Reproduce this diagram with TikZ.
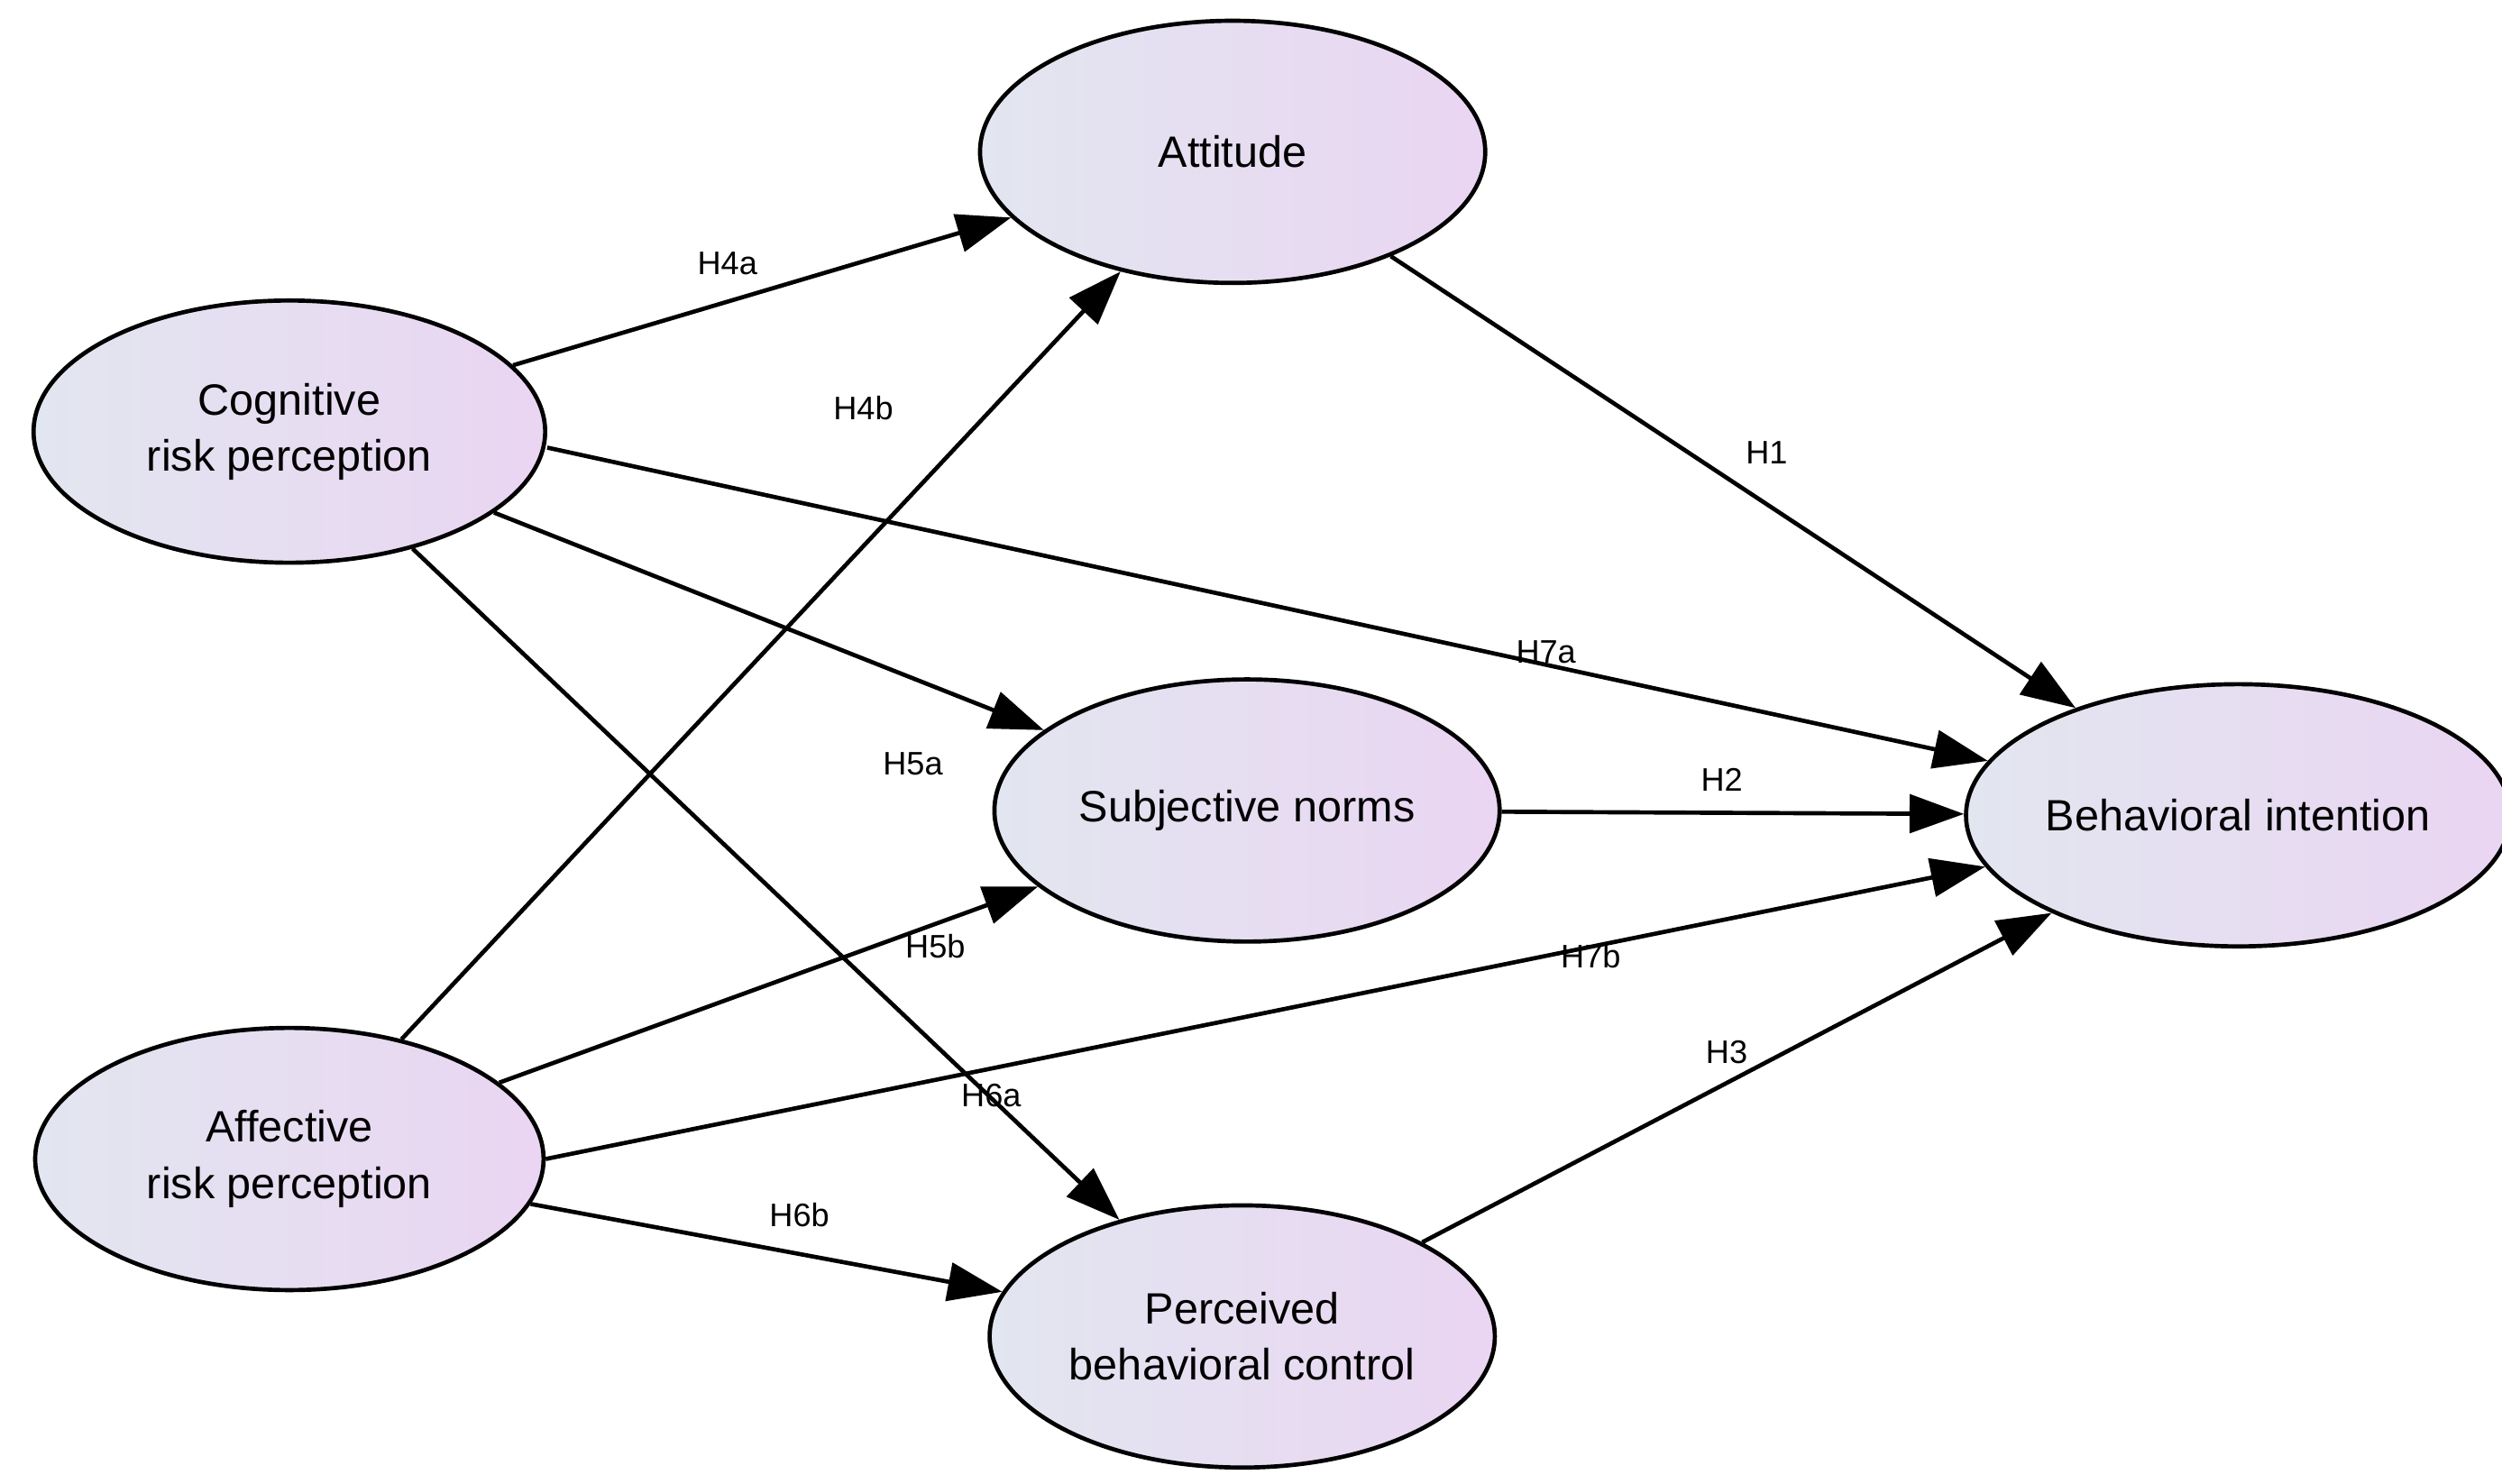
\documentclass[tikz,border=0pt]{standalone}
\usepackage{fontspec}
\setmainfont{Liberation Sans}
\usetikzlibrary{shapes.geometric,arrows.meta}
\definecolor{lcol}{HTML}{E2E6F0}
\definecolor{rcol}{HTML}{EAD5F2}
\tikzset{
  construct/.style={ellipse, draw, line width=0.75pt, minimum width=3.16cm, minimum height=1.64cm,
    left color=lcol, right color=rcol, align=center, font=\fontsize{7.8}{10}\selectfont, inner sep=0pt},
  path/.style={line width=0.75pt, -{Triangle[length=0.34cm,width=0.24cm]}},
  hyp/.style={font=\fontsize{5.8}{7}\selectfont, inner sep=1pt}
}
\begin{document}
\begin{tikzpicture}
    \useasboundingbox (0,0) rectangle (15.65,-9.28);

    \node (att) at (7.71,-0.95) [construct] {Attitude};
    \node (cog) at (1.81,-2.70) [construct, minimum width=3.20cm] {Cognitive\\risk perception};
    \node (sn) at (7.80,-5.07) [construct] {Subjective norms};
    \node (bi) at (14.00,-5.10) [construct] {Behavioral intention};
    \node (aff) at (1.81,-7.25) [construct, minimum width=3.18cm] {Affective\\risk perception};
    \node (pbc) at (7.77,-8.36) [construct] {Perceived\\behavioral control};

    \draw[path] (cog) -- (att);
    \draw[path] (aff) -- (att);
    \draw[path] (cog) -- (sn);
    \draw[path] (cog.east) ++(0,-0.1) coordinate (c7) -- (bi);
    \draw[path] (cog) -- (pbc);
    \draw[path] (att) -- (bi);
    \draw[path] (sn) -- (bi);
    \draw[path] (aff) -- (sn);
    \draw[path] (aff.east) -- (bi);
    \draw[path] (aff) -- (pbc);
    \draw[path] (pbc) -- (bi);

    \node (h4a) at (4.55,-1.65) [hyp] {H4a};
    \node (h4b) at (5.40,-2.55) [hyp] {H4b};
    \node (h5a) at (5.71,-4.78) [hyp] {H5a};
    \node (h7a) at (9.67,-4.08) [hyp] {H7a};
    \node (h6a) at (6.20,-6.85) [hyp] {H6a};
    \node (h1) at (11.05,-2.83) [hyp] {H1};
    \node (h2) at (10.77,-4.88) [hyp] {H2};
    \node (h5b) at (5.85,-5.92) [hyp] {H5b};
    \node (h7b) at (9.95,-5.98) [hyp] {H7b};
    \node (h6b) at (5.00,-7.60) [hyp] {H6b};
    \node (h3) at (10.80,-6.58) [hyp] {H3};
\end{tikzpicture}
\end{document}
